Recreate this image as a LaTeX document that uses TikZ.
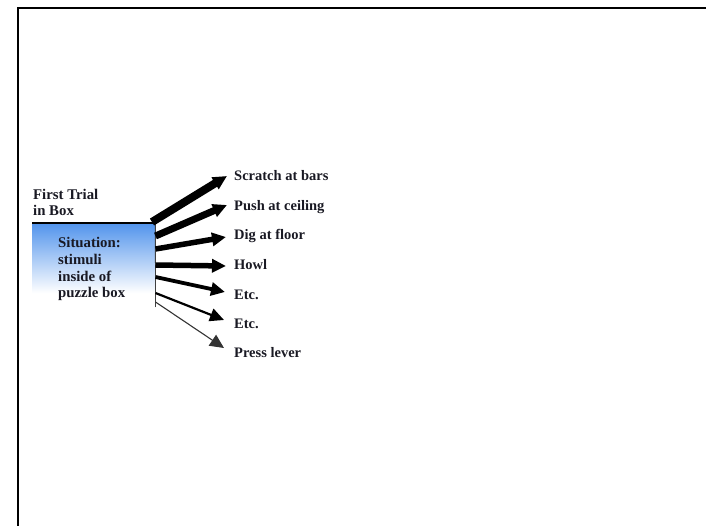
\documentclass[tikz,border=0pt]{standalone}
\usepackage{fontspec}
\setmainfont{Liberation Serif}
\usetikzlibrary{arrows.meta}
\definecolor{boxblue}{RGB}{82,148,236}
\definecolor{txtdark}{RGB}{25,25,35}
\tikzset{
  frameline/.style={line width=2pt, line cap=rect},
  lbl/.style={anchor=base west, inner sep=0pt, font=\fontsize{14.5}{17}\selectfont\bfseries, text=txtdark},
  boxtxt/.style={anchor=base west, inner sep=0pt, align=left, font=\fontsize{14.8}{16.7}\selectfont\bfseries, text=txtdark},
  resp/.style={draw=black, -{Triangle[length=14pt,width=13pt]}},
}
\begin{document}
\begin{tikzpicture}[x=1pt,y=-1pt]
\useasboundingbox (0,0) rectangle (706,526);
% frame
\draw[frameline] (18.2,526) -- (18.2,7.7) -- (706,7.7);
% situation box
\node[anchor=north west, minimum width=123pt, minimum height=70pt, inner sep=0pt,
      top color=boxblue, bottom color=white, draw=none] (box) at (32,223) {};
\coordinate (boxbr) at (155.5,307);
\draw[line width=0.9pt, black!75] (box.north east) -- (boxbr);
\draw[line width=2.5pt] (box.north west) -- (box.north east);
% multi-line nodes: base anchor is the baseline of the last line
\node[boxtxt] (trial) at (33,216) {First Trial\\in Box};
\node[boxtxt] (sit) at (58,298) {Situation:\\stimuli\\inside of\\puzzle box};
% labels
\node[lbl] (l1) at (234,181) {Scratch at bars};
\node[lbl] (l2) at (234,211) {Push at ceiling};
\node[lbl] (l3) at (234,240) {Dig at floor};
\node[lbl] (l4) at (234,270) {Howl};
\node[lbl] (l5) at (234,299) {Etc.};
\node[lbl] (l6) at (234,328) {Etc.};
\node[lbl] (l7) at (234,357) {Press lever};
% start points on the box edge
\coordinate (s1) at (152,222);
\coordinate (s2) at (155.5,236);
\coordinate (s3) at (155.5,249);
\coordinate (s4) at (155.5,265);
\coordinate (s5) at (155.5,277);
\coordinate (s6) at (155.5,293);
\coordinate (s7) at (155.5,302);
% tip points before the labels
\coordinate (t1) at (227,176);
\coordinate (t2) at (227,205);
\coordinate (t3) at (226,237);
\coordinate (t4) at (226,266);
\coordinate (t5) at (225,292);
\coordinate (t6) at (224,320);
\coordinate (t7) at (224,348);
\draw[resp, line width=8pt] (s1) -- (t1);
\draw[resp, line width=7pt] (s2) -- (t2);
\draw[resp, line width=5.5pt] (s3) -- (t3);
\draw[resp, line width=5.5pt] (s4) -- (t4);
\draw[resp, line width=3.8pt] (s5) -- (t5);
\draw[resp, line width=2.2pt] (s6) -- (t6);
\draw[resp, line width=1.1pt, draw=black!80] (s7) -- (t7);
\end{tikzpicture}
\end{document}
